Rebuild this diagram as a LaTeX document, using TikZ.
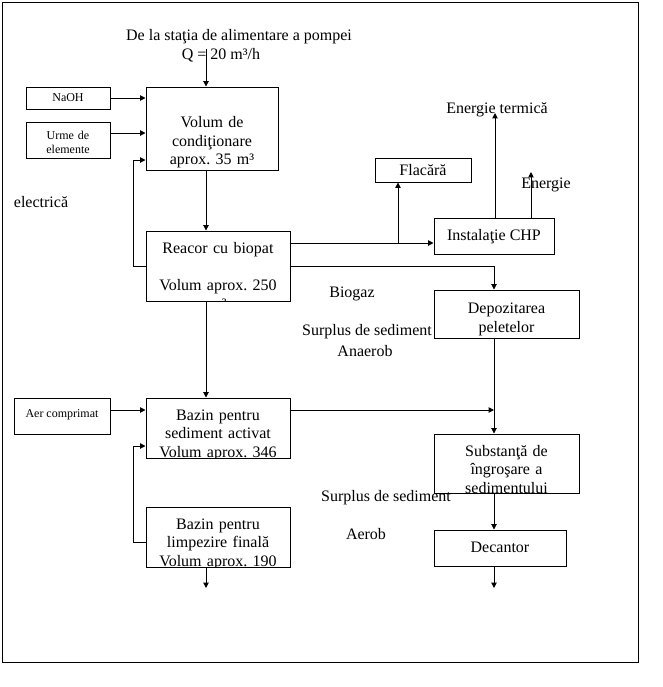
\documentclass[tikz,border=0pt]{standalone}
\usepackage{fontspec}
\setmainfont{Liberation Serif}
\frenchspacing
\usetikzlibrary{arrows.meta,fit}

\begin{document}
\begin{tikzpicture}[x=0.75pt, y=-0.75pt, line width=0.75pt,
    box/.style={draw, inner sep=0pt},
    boxtext/.style 2 args={path picture={
        \node[inner sep=0pt, align=center, anchor=north, font=\fontsize{12}{13.8}\selectfont]
          at ([yshift=-#2*0.75pt]path picture bounding box.north) {#1};}},
    smalltext/.style 2 args={path picture={
        \node[inner sep=0pt, align=center, anchor=north, font=\fontsize{9}{10.5}\selectfont]
          at ([yshift=-#2*0.75pt]path picture bounding box.north) {#1};}},
    bigc/.style 2 args={path picture={
        \node[inner sep=0pt, anchor=base, font=\fontsize{12}{13.8}\selectfont]
          at ([yshift=-#2*0.75pt]path picture bounding box.center) {#1};}},
    smallc/.style 2 args={path picture={
        \node[inner sep=0pt, anchor=base, font=\fontsize{9}{10.5}\selectfont]
          at ([yshift=-#2*0.75pt]path picture bounding box.center) {#1};}},
    lbl/.style={font=\fontsize{12}{13.8}\selectfont, inner sep=0pt},
    arr/.style={-{Triangle[length=4pt,width=4pt]}}]
        \useasboundingbox (0,0) rectangle (663,687);

        % Frame
        \draw (2,2) rectangle (638,662);

        % Inputs
        \node[box, fit={(26,87) (110,109)}, smallc={NaOH}{3}] (naoh) {};
        \node[box, fit={(26,122) (110,158)}, smalltext={Urme de\\elemente}{6}] (urme) {};
        \node[box, fit={(14,398) (110,434)}, smallc={Aer comprimat}{1}] (aer) {};

        % Left column
        \node[box, fit={(146,87) (278,170)}, boxtext={Volum de\\condiţionare\\aprox. 35 m³}{19}] (volum) {};
        \node[box, fit={(146,231) (290,301)}, boxtext={Reacor cu biopat\\~\\Volum aprox. 250\\m³}{15}] (reacor) {};
        \node[box, fit={(146,398) (290,458)}, boxtext={Bazin pentru\\sediment activat\\Volum aprox. 346}{12}] (bazinA) {};
        \node[box, fit={(146,507) (290,567)}, boxtext={Bazin pentru\\limpezire finală\\Volum aprox. 190}{12}] (bazinL) {};

        % Right column
        \node[box, fit={(375,158) (471,182)}, bigc={Flacără}{5}] (flacara) {};
        \node[box, fit={(434,218) (554,254)}, bigc={Instalaţie CHP}{4}] (chp) {};
        \node[box, fit={(434,290) (579,338)}, boxtext={Depozitarea\\peletelor}{10}] (depoz) {};
        \node[box, fit={(434,434) (579,493)}, boxtext={Substanţă de\\îngroşare a\\sedimentului}{11}] (subst) {};
        \node[box, fit={(434,530) (566,566)}, bigc={Decantor}{4}] (decantor) {};

        % Labels
        \node[lbl] (title) at (239,37) {De la staţia de alimentare a pompei};
        \node[lbl] (flow) at (221,55) {Q = 20 m³/h};
        \node[lbl] (termica) at (497,110) {Energie termică};
        \node[lbl] (energie) at (546,185) {Energie};
        \node[lbl] (electrica) at (41,202) {electrică};
        \node[lbl] (biogaz) at (352,294) {Biogaz};
        \node[lbl] (surplusAn) at (367,332) {Surplus de sediment};
        \node[lbl] (anaerob) at (365,351) {Anaerob};
        \node[lbl] (surplusAe) at (386,498) {Surplus de sediment};
        \node[lbl] (aerob) at (366,534) {Aerob};

        % Helper points
        \coordinate (in) at (206,49);
        \coordinate (loop) at (133,0);
        \coordinate (rcol) at (494,0);
        \coordinate (split) at (398,243);
        \coordinate (termTip) at (495,113);
        \coordinate (elTip) at (531,172);
        \coordinate (outL) at (206,588);
        \coordinate (outD) at (494,588);

        % Left flow
        \draw[arr] (in) -- (volum.north -| in);
        \draw[arr] (naoh.east) -- (volum.west |- naoh.east);
        \draw[arr] (urme.east |- 0,133) -- (volum.west |- 0,133);
        \draw[arr] (reacor.west) -| (loop |- 0,160) -- (volum.west |- 0,160);
        \draw[arr] (volum.south -| in) -- (reacor.north -| in);
        \draw[arr] (reacor.south -| in) -- (bazinA.north -| in);
        \draw[arr] (aer.east |- 0,410) -- (bazinA.west |- 0,410);
        \draw[arr] (bazinL.west |- 0,542) -| (loop |- 0,446) -- (bazinA.west |- 0,446);
        \draw[arr] (bazinL.south -| in) -- (outL);

        % Biogas and sludge
        \draw[arr] (reacor.east |- split) -- (chp.west |- split);
        \draw[arr] (split) -- (split |- flacara.south);
        \draw[arr] (chp.north -| termTip) -- (termTip);
        \draw[arr] (chp.north -| elTip) -- (elTip);
        \draw[arr] (reacor.east) -| (depoz.north -| rcol);
        \draw[arr] (depoz.south -| rcol) -- (subst.north -| rcol);
        \draw[arr] (bazinA.east |- 0,410) -- (rcol |- 0,410);
        \draw[arr] (subst.south -| rcol) -- (decantor.north -| rcol);
        \draw[arr] (decantor.south -| rcol) -- (outD);
\end{tikzpicture}
\end{document}
